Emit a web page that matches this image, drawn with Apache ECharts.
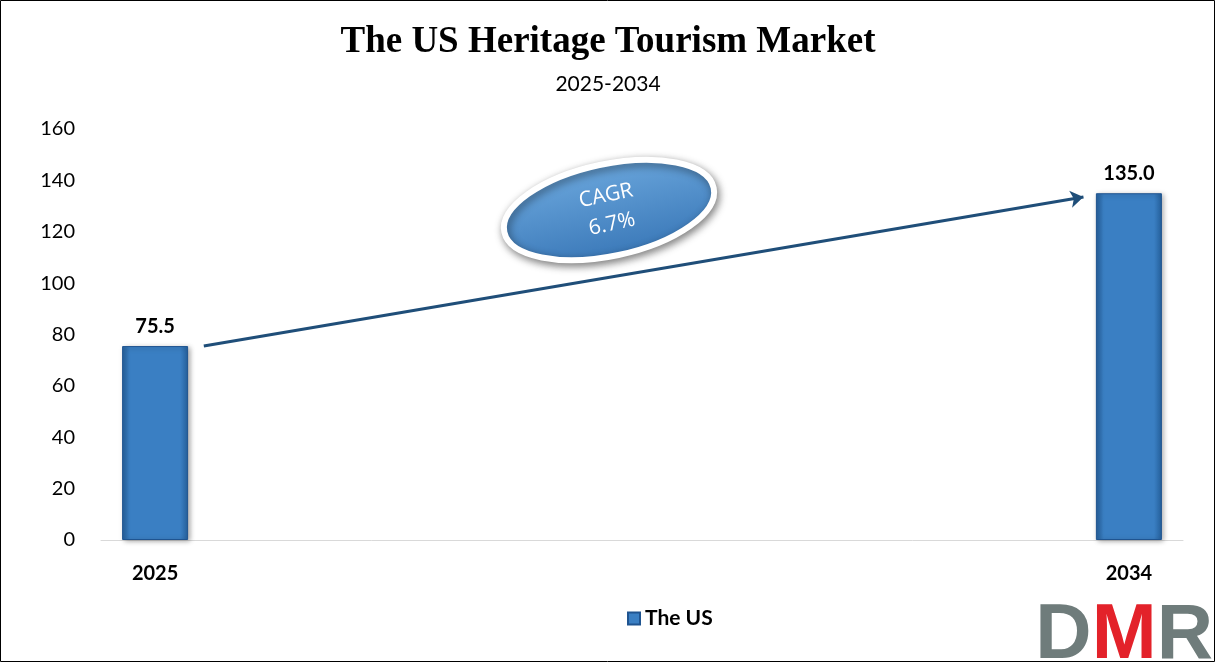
<!DOCTYPE html>
<html><head><meta charset="utf-8">
<script src="https://cdn.jsdelivr.net/npm/echarts@6/dist/echarts.min.js"></script>
<style>html,body{margin:0;padding:0;background:#fff}#c{width:1216px;height:663px}</style>
</head><body><div id="c"></div><script>
const years = [2025, 2034];
const values = [75.5, 135.0];
const yTickStep = 20;
const yMax = 160;
const seriesName = 'The US';
const chartTitle = 'The US Heritage Tourism Market';
const chartSubtitle = '2025-2034';
const cagrLines = ['CAGR', '6.7%'];

const chart = echarts.init(document.getElementById('c'), null, {renderer: 'canvas'});
const barFill = new echarts.graphic.LinearGradient(0, 0, 1, 0, [
  {offset: 0, color: '#25609c'},
  {offset: 0.12, color: '#3a7fc3'},
  {offset: 0.88, color: '#3a7fc3'},
  {offset: 1, color: '#25609c'}
]);
const option = {
  backgroundColor: '#fff',
  animation: false,
  title: {
    text: chartTitle,
    subtext: chartSubtitle,
    left: 'center',
    top: 19,
    itemGap: 13,
    textStyle: {fontFamily: 'Liberation Serif', fontWeight: 'bold', fontSize: 37, color: '#000'},
    subtextStyle: {fontFamily: 'Lato', fontSize: 21, color: '#000'}
  },
  legend: {
    left: 622, top: 603,
    itemWidth: 12, itemHeight: 12, itemGap: 6,
    icon: 'rect',
    textStyle: {fontFamily: 'Lato', fontWeight: 'bold', fontSize: 21, color: '#000'},
    data: [seriesName]
  },
  grid: {left: 101, right: 33, top: 129, bottom: 123, containLabel: false},
  xAxis: {
    type: 'value',
    min: years[0] - 0.5,
    max: years[years.length - 1] + 0.5,
    splitLine: {show: false},
    axisTick: {show: false},
    axisLine: {show: true, lineStyle: {color: '#d9d9d9', width: 1}},
    axisLabel: {
      customValues: years,
      margin: 24,
      fontFamily: 'Lato', fontWeight: 'bold', fontSize: 20, color: '#000',
      formatter: v => String(v)
    }
  },
  yAxis: {
    type: 'value', min: 0, max: yMax, interval: yTickStep,
    axisLine: {show: false}, axisTick: {show: false},
    splitLine: {show: false},
    axisLabel: {fontFamily: 'Lato', fontSize: 20, color: '#000', margin: 26}
  },
  series: [
    {
      name: seriesName,
      type: 'bar',
      barWidth: 66,
      data: years.map((y, i) => [y, values[i]]),
      itemStyle: {
        color: barFill,
        borderColor: '#1f5490', borderWidth: 1,
        shadowBlur: 5, shadowColor: 'rgba(0,0,0,0.35)', shadowOffsetX: 2, shadowOffsetY: 1
      },
      label: {
        show: true, position: 'top', distance: 10,
        fontFamily: 'Lato', fontWeight: 'bold', fontSize: 20, color: '#000',
        formatter: p => p.value[1].toFixed(1)
      }
    },
    {
      name: 'arrow',
      type: 'lines',
      coordinateSystem: 'cartesian2d',
      silent: true,
      symbol: ['none', 'arrow'],
      symbolSize: 13,
      lineStyle: {color: '#1f4e79', width: 3, opacity: 1},
      data: [{coords: [[years[0] + 0.45, values[0]], [years[1] - 0.42, values[1] - 1.5]]}]
    }
  ],
  graphic: [
    {
      type: 'rect', z: 100, silent: true,
      shape: {x: 0.5, y: 0.5, width: 1214, height: 661},
      style: {fill: 'none', stroke: '#000', lineWidth: 1}
    },
    {
      type: 'group', x: 609, y: 210, rotation: 12 * Math.PI / 180, z: 50,
      children: [
        {
          type: 'ellipse',
          shape: {cx: 0, cy: 0, rx: 107, ry: 46},
          style: {
            fill: new echarts.graphic.LinearGradient(0, 0, 0, 1, [
              {offset: 0, color: '#6aa6dc'},
              {offset: 1, color: '#3a78b8'}
            ]),
            stroke: '#fff', lineWidth: 6,
            shadowBlur: 8, shadowColor: 'rgba(0,0,0,0.45)', shadowOffsetX: 2, shadowOffsetY: 3
          }
        },
        {
          type: 'text',
          style: {
            text: cagrLines.join('\n'),
            x: 0, y: 0, align: 'center', verticalAlign: 'middle',
            fontFamily: 'Open Sans', fontSize: 21, lineHeight: 29, fill: '#fff'
          }
        }
      ]
    },
    {
      type: 'text', right: 3, bottom: -12, z: 60,
      style: {
        text: '{g|D}{r|M}{g|R}',
        rich: {
          g: {fontFamily: 'Liberation Sans', fontWeight: 'bold', fontSize: 78, fill: '#6f7c7b'},
          r: {fontFamily: 'Liberation Sans', fontWeight: 'bold', fontSize: 78, fill: '#e3222a'}
        }
      }
    }
  ]
};
chart.setOption(option);
</script></body></html>
